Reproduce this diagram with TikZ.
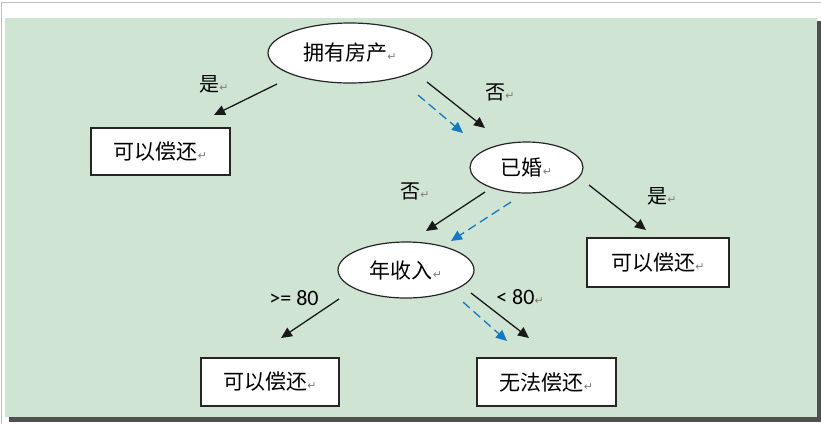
\documentclass[tikz,border=0pt]{standalone}
\usepackage{fontspec}
\setmainfont{Carlito}
\newfontfamily\cjk{Noto Sans CJK SC}
\newfontfamily\symf{DejaVu Sans}
\usetikzlibrary{shapes.geometric,arrows.meta}
\definecolor{panelgreen}{RGB}{207,228,211}
\definecolor{dashblue}{RGB}{20,120,195}
\definecolor{framegray}{RGB}{190,190,190}
\definecolor{shadowgray}{RGB}{80,80,80}
\newcommand{\pmark}{{\symf\fontsize{11}{11}\selectfont\color{gray}↵}}
\tikzset{
  x=1pt, y=-1pt,
  ovalnode/.style={ellipse, draw=black!85, line width=1.2pt, fill=white, inner sep=0pt, font=\cjk\fontsize{21}{21}\selectfont},
  leafbox/.style={rectangle, draw=black!85, line width=1.5pt, fill=white, inner sep=0pt, font=\cjk\fontsize{21}{21}\selectfont},
  edgelabel/.style={inner sep=0pt, font=\cjk\fontsize{20}{20}\selectfont},
  numlabel/.style={inner sep=0pt, font=\fontsize{22}{22}\selectfont},
  treearrow/.style={draw=black!90, line width=1.3pt, -{Triangle[length=11pt,width=10pt]}},
  patharrow/.style={draw=dashblue, line width=1.3pt, dash pattern=on 9pt off 5pt, -{Triangle[length=11pt,width=10pt]}}
}
\begin{document}
\begin{tikzpicture}
\useasboundingbox (0,0) rectangle (821,424);
\fill[white] (0,0) rectangle (821,424);
% frame lines
\draw[framegray, line width=1.2pt] (1.5,424) -- (1.5,2.5) -- (821,2.5);
% shadow and panel
\fill[shadowgray] (9,21) rectangle (820.5,421.5);
\fill[panelgreen] (5,18) rectangle (817,417);

% nodes
\node[ovalnode, minimum width=164pt, minimum height=60pt] (house) at (350,53) {拥有房产\pmark};
\node[leafbox, minimum width=139pt, minimum height=47pt] (yes1) at (160.5,151.5) {可以偿还\pmark};
\node[ovalnode, minimum width=113pt, minimum height=51pt] (married) at (526.5,167.5) {已婚\pmark};
\node[leafbox, minimum width=142pt, minimum height=49pt] (yes2) at (658,262.5) {可以偿还\pmark};
\node[ovalnode, minimum width=136pt, minimum height=56pt] (income) at (406,270) {年收入\pmark};
\node[leafbox, minimum width=138pt, minimum height=48pt] (yes3) at (270,382) {可以偿还\pmark};
\node[leafbox, minimum width=139pt, minimum height=48pt] (no3) at (546.5,382) {无法偿还\pmark};

% labels
\node[edgelabel] (lshi1) at (214,84) {是\pmark};
\node[edgelabel] (lfou1) at (500,92) {否\pmark};
\node[edgelabel] (lfou2) at (415,191) {否\pmark};
\node[edgelabel] (lshi2) at (662,196) {是\pmark};
\node[numlabel] (lge) at (294,298) {>= 80};
\node[numlabel] (llt) at (520,297) {< 80\pmark};

% arrow endpoints
\coordinate (a1s) at (277,84);  \coordinate (a1e) at (214,115);
\coordinate (a2s) at (427,82);  \coordinate (a2e) at (485,128);
\coordinate (b2s) at (418,95);  \coordinate (b2e) at (463,133);
\coordinate (a3s) at (485,192); \coordinate (a3e) at (426,231);
\coordinate (b3s) at (511,202); \coordinate (b3e) at (451,241);
\coordinate (a4s) at (589,185); \coordinate (a4e) at (646,230);
\coordinate (a5s) at (339,299); \coordinate (a5e) at (281,338);
\coordinate (a6s) at (471,293); \coordinate (a6e) at (529,338);
\coordinate (b6s) at (463,302); \coordinate (b6e) at (507,341);

% connectors
\draw[treearrow] (a1s) -- (a1e);
\draw[treearrow] (a2s) -- (a2e);
\draw[patharrow] (b2s) -- (b2e);
\draw[treearrow] (a3s) -- (a3e);
\draw[patharrow] (b3s) -- (b3e);
\draw[treearrow] (a4s) -- (a4e);
\draw[treearrow] (a5s) -- (a5e);
\draw[treearrow] (a6s) -- (a6e);
\draw[patharrow] (b6s) -- (b6e);
\end{tikzpicture}
\end{document}
